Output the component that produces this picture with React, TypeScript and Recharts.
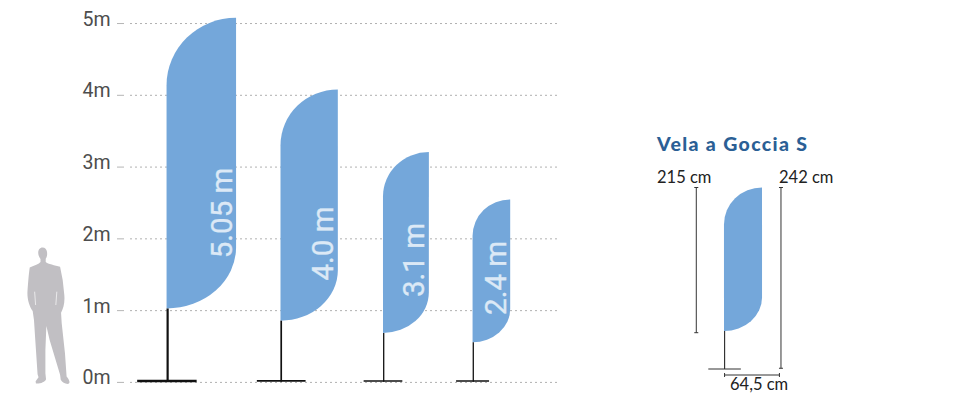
import React from 'react';
import { ComposedChart, CartesianGrid, Line, ReferenceArea, XAxis, YAxis } from 'recharts';

// main chart, everything in metres
const heightTicks = [0, 1, 2, 3, 4, 5];
const flagLabels = ['5.05 m', '4.0 m', '3.1 m', '2.4 m'];
const flagLeft = [0.51, 2.1, 3.53, 4.78];
const flagWidth = [0.97, 0.8, 0.64, 0.525];
const flagTop = [5.08, 4.08, 3.21, 2.55];
const flagBottom = [1.03, 0.86, 0.69, 0.56];
const labelStart = [1.73, 1.42, 1.19, 0.94];
const baseLeft = [0.1, 1.77, 3.26, 4.55];
const baseRight = [0.93, 2.45, 3.8, 5.01];
const poleX = [0.525, 2.11, 3.54, 4.79];
const personBox = [-1.44, -0.83, -0.02, 1.88];

// small chart, in cm as drawn
const smallFlag = [51.3, 95.7, 50.7, 242];
const smallPole = [52, 0, 50.7];
const smallBase = [33, 71, 0];
const leftDim = [19, 48.4, 242];
const rightDim = [117.8, 1, 242];
const widthDim = [52, 116, -8];

const BLUE = '#74a7da';
const poleWidths = [2.2, 1.7, 1.3, 1.3];
const baseWidths = [2.4, 1.7, 1.5, 1.5];

const flagPath = (x: number, y: number, w: number, h: number) => {
  const top = w * 0.97;
  const bottom = w * 0.88;
  return `M${x + w} ${y} A${w} ${top} 0 0 0 ${x} ${y + top} L${x} ${y + h} A${w} ${bottom} 0 0 0 ${x + w} ${y + h - bottom} Z`;
};

const HeightTick = ({ y, payload }: any) => (
  <g>
    <line x1={117} x2={124} y1={y} y2={y} stroke="#b5b5b5" strokeWidth={1} />
    <text x={110.5} y={y + 2} textAnchor="end" fontFamily="Roboto" fontSize={19.5} fill="#4d4d4d">
      {payload.value}m
    </text>
  </g>
);

const Flag = ({ x, y, width, height, i }: any) => {
  const perMetre = height / (flagTop[i] - flagBottom[i]);
  const tx = x + width - 4.5;
  const ty = y + height - (labelStart[i] - flagBottom[i]) * perMetre;
  return (
    <g>
      <path d={flagPath(x, y, width, height)} fill={BLUE} />
      <text
        x={tx}
        y={ty}
        transform={`rotate(-90 ${tx} ${ty})`}
        fontFamily="Roboto"
        fontSize={29.5}
        fill="#dce9f6"
        stroke="#dce9f6"
        strokeWidth={0.35}
      >
        {flagLabels[i]}
      </text>
    </g>
  );
};

const Person = ({ x, y, width, height }: any) => (
  <g transform={`translate(${x} ${y}) scale(${width / 134} ${height / 410}) translate(-48 -22)`}>
    <path
      fill="#c1bfc3"
      d="M96 22 C88 22 83 29 83 38 C83 46 87 52 90 57 L90 66 C85 72 72 76 57 82 C54 100 52 130 50 155 C49 175 55 198 66 213 L70 240 L74 300 L81 403 L84 412 L75 424 L76 431 C90 432 104 426 107 418 L105 400 L105 330 L108 258 L118 300 L150 405 L152 420 C157 428 166 433 176 432 C182 428 178 420 170 410 L165 340 L155 250 L153 218 C160 205 165 190 163 165 L158 120 L150 80 C135 76 112 72 106 66 L106 56 C110 50 111 44 110 36 C109 28 104 22 96 22 Z"
    />
    <path d="M72 155 L75 195 M140 155 L137 195" stroke="#fff" strokeWidth={2} fill="none" />
  </g>
);

const HCap = ({ cx, cy }: any) => <line x1={cx - 2} x2={cx + 2} y1={cy} y2={cy} stroke="#333" strokeWidth={1} />;
const VCap = ({ cx, cy }: any) => <line x1={cx} x2={cx} y1={cy - 2} y2={cy + 2} stroke="#333" strokeWidth={1} />;

const labelFont = { fontFamily: 'Lato', fontSize: 16.5, fill: '#222' };

const App = () => {
  return (
    <div style={{ position: 'absolute', left: 0, top: 0, width: 960, height: 400, background: '#fff', overflow: 'hidden' }}>
      <div style={{ position: 'absolute', left: 0, top: 0 }}>
        <ComposedChart width={960} height={400} margin={{ top: 2, right: 400, bottom: 17.6, left: 0 }}>
          <CartesianGrid
            vertical={false}
            stroke="#b0b0b0"
            strokeDasharray="2 3"
            horizontalValues={heightTicks}
          />
          <XAxis type="number" dataKey="x" domain={[0, 6]} hide />
          <YAxis
            type="number"
            dataKey="y"
            width={130}
            domain={[0, 5.3]}
            ticks={heightTicks}
            axisLine={false}
            tickLine={false}
            tick={<HeightTick />}
          />
          <ReferenceArea
            x1={personBox[0]}
            x2={personBox[1]}
            y1={personBox[2]}
            y2={personBox[3]}
            ifOverflow="visible"
            shape={(p: any) => <Person {...p} />}
          />
          {flagLabels.map((label, i) => (
            <ReferenceArea
              key={label}
              x1={flagLeft[i]}
              x2={flagLeft[i] + flagWidth[i]}
              y1={flagBottom[i]}
              y2={flagTop[i]}
              ifOverflow="visible"
              shape={(p: any) => <Flag {...p} i={i} />}
            />
          ))}
          {flagLabels.map((label, i) => (
            <Line
              key={`pole-${label}`}
              data={[
                { x: poleX[i], y: 0.01 },
                { x: poleX[i], y: flagBottom[i] },
              ]}
              dataKey="y"
              stroke="#111"
              strokeWidth={poleWidths[i]}
              dot={false}
              isAnimationActive={false}
            />
          ))}
          {flagLabels.map((label, i) => (
            <Line
              key={`base-${label}`}
              data={[
                { x: baseLeft[i], y: 0.02 },
                { x: baseRight[i], y: 0.02 },
              ]}
              dataKey="y"
              stroke="#111"
              strokeWidth={baseWidths[i]}
              dot={false}
              isAnimationActive={false}
            />
          ))}
        </ComposedChart>
      </div>

      <div style={{ position: 'absolute', left: 640, top: 120 }}>
        <ComposedChart width={220} height={279} margin={{ top: 24, right: 60, bottom: 0, left: 40 }}>
          <XAxis type="number" dataKey="x" domain={[0, 140]} hide />
          <YAxis type="number" dataKey="y" domain={[-40, 300]} hide />
          <ReferenceArea
            x1={smallFlag[0]}
            x2={smallFlag[1]}
            y1={smallFlag[2]}
            y2={smallFlag[3]}
            shape={(p: any) => <path d={flagPath(p.x, p.y, p.width, p.height)} fill={BLUE} />}
          />
          <Line
            data={[
              { x: smallPole[0], y: smallPole[1] },
              { x: smallPole[0], y: smallPole[2] },
            ]}
            dataKey="y"
            stroke="#333"
            strokeWidth={1.2}
            dot={false}
            isAnimationActive={false}
          />
          <Line
            data={[
              { x: smallBase[0], y: smallBase[2] },
              { x: smallBase[1], y: smallBase[2] },
            ]}
            dataKey="y"
            stroke="#333"
            strokeWidth={1.2}
            dot={false}
            isAnimationActive={false}
          />
          <Line
            data={[
              { x: leftDim[0], y: leftDim[1] },
              { x: leftDim[0], y: leftDim[2] },
            ]}
            dataKey="y"
            stroke="#333"
            strokeWidth={1}
            dot={<HCap />}
            isAnimationActive={false}
          />
          <Line
            data={[
              { x: rightDim[0], y: rightDim[1] },
              { x: rightDim[0], y: rightDim[2] },
            ]}
            dataKey="y"
            stroke="#333"
            strokeWidth={1}
            dot={<HCap />}
            isAnimationActive={false}
          />
          <Line
            data={[
              { x: widthDim[0], y: widthDim[2] },
              { x: widthDim[1], y: widthDim[2] },
            ]}
            dataKey="y"
            stroke="#333"
            strokeWidth={1}
            dot={<VCap />}
            isAnimationActive={false}
          />
          <text x={17} y={31} fontFamily="Lato" fontWeight={900} fontSize={19.5} letterSpacing={1.35} fill="#2b5f95">
            Vela a Goccia S
          </text>
          <text x={17} y={63} {...labelFont}>215 cm</text>
          <text x={139} y={63} {...labelFont}>242 cm</text>
          <text x={90} y={270} {...labelFont}>64,5 cm</text>
        </ComposedChart>
      </div>
    </div>
  );
};

export default App;
